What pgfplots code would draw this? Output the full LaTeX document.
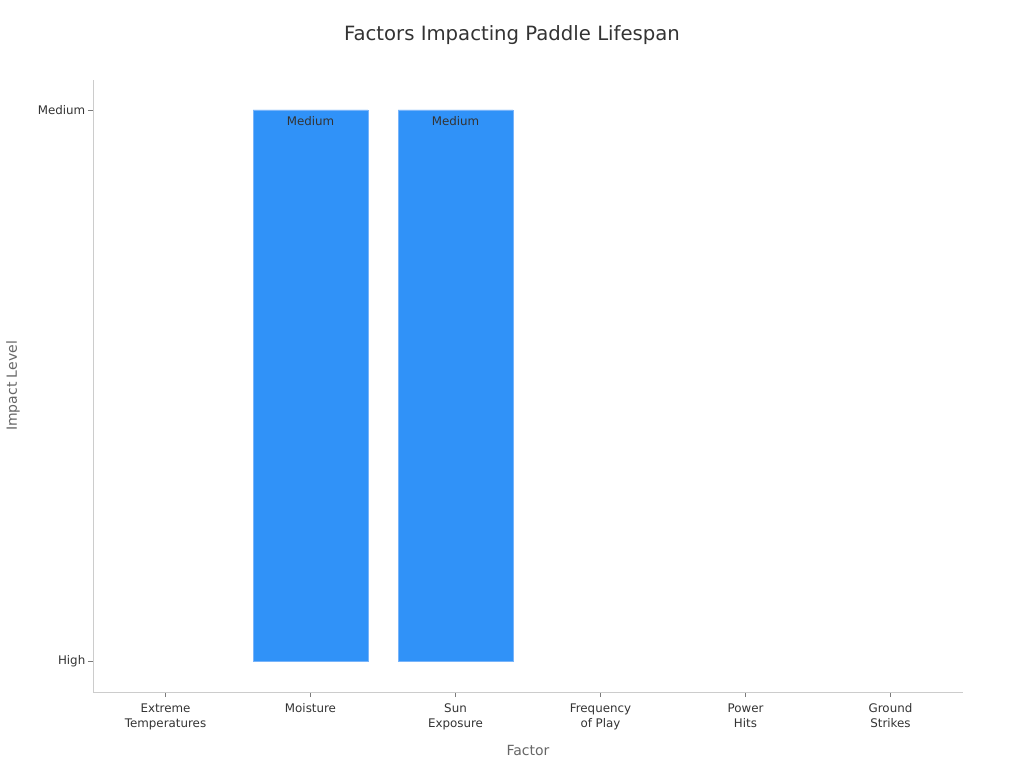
\documentclass[border=0pt]{standalone}
\usepackage{pgfplots}
\pgfplotsset{compat=1.18}
\usepackage{fontspec}
\setmainfont{DejaVu Sans}
\definecolor{barblue}{RGB}{48,146,248}
\definecolor{baredge}{RGB}{120,180,250}
\definecolor{txt}{RGB}{51,51,51}
\definecolor{lab}{RGB}{102,102,102}
\definecolor{spine}{RGB}{204,204,204}
\begin{document}
\begin{tikzpicture}
\path[use as bounding box] (0,0) rectangle (768pt,576pt);
\begin{axis}[
  at={(69.75pt,57pt)}, anchor=south west,
  scale only axis, width=652.5pt, height=459pt,
  xmin=-0.5, xmax=5.5, ymin=-0.0563, ymax=1.0544,
  axis x line*=bottom, axis y line*=left,
  axis line style={spine, line width=0.6pt},
  tick align=outside, major tick length=3.75pt,
  tick style={spine!60!black, line width=0.6pt},
  xtick={0,1,2,3,4,5},
  xticklabels={{Extreme\\Temperatures},{Moisture},{Sun\\Exposure},{Frequency\\of Play},{Power\\Hits},{Ground\\Strikes}},
  xticklabel style={align=center, yshift=-1.5pt, font=\fontsize{8.9pt}{11.25pt}\selectfont, text=txt},
  ytick={0,1}, yticklabels={High,Medium},
  yticklabel style={xshift=1.5pt, font=\fontsize{8.9pt}{10.5pt}\selectfont, text=txt},
  title={Factors Impacting Paddle Lifespan},
  every axis title shift=0pt,
  title style={at={(rel axis cs:0.4816,1.0735)}, anchor=center, font=\fontsize{14.75pt}{17pt}\selectfont, text=txt},
  xlabel={Factor}, ylabel={Impact Level},
  xlabel style={at={(rel axis cs:0.5,-0.0948)}, anchor=center, font=\fontsize{10.5pt}{12pt}\selectfont, text=lab},
  ylabel style={at={(rel axis cs:-0.092,0.5)}, anchor=center, rotate=0, font=\fontsize{10.5pt}{12pt}\selectfont, text=lab},
  ybar, bar width=0.793,
  nodes near coords={Medium},
  every node near coord/.style={anchor=north, yshift=-1.5pt, font=\fontsize{8.9pt}{10pt}\selectfont, text=txt},
]
\addplot[fill=barblue, draw=baredge, line width=0.5pt] coordinates {(1,1) (2,1)};
\end{axis}
\end{tikzpicture}
\end{document}
